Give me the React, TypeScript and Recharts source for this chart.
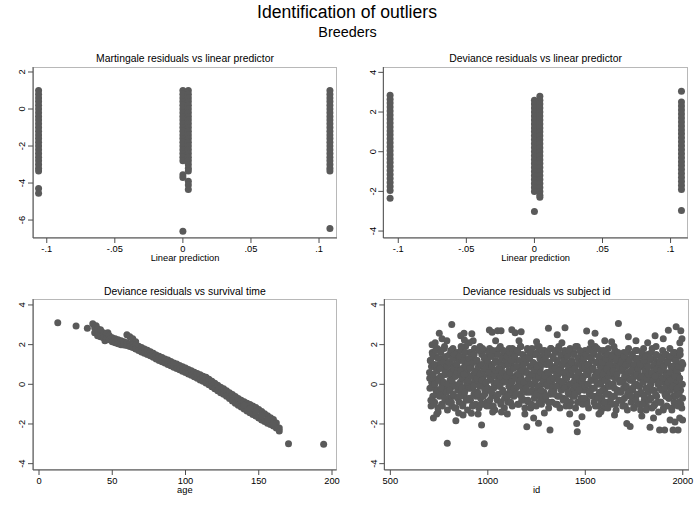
import { ScatterChart, Scatter, XAxis, YAxis } from "recharts";

const FONT = '"Liberation Sans", Arial, Helvetica, sans-serif';
const MARKER = "#5a5a5a";
const AXIS = "#4d4d4d";
const FRAME = "#b8b8b8";
const Y_W = 25;
const X_H = 30;

// the linear predictor only takes a few distinct values
const lpLow = -0.106;
const lpMid = 0;
const lpMidB = 0.004;
const lpHigh = 0.108;

const martingaleLow = [
  1.0, 0.8, 0.6, 0.4, 0.2, 0.0, -0.2, -0.4, -0.6, -0.8, -1.0, -1.2, -1.4, -1.6,
  -1.8, -2.0, -2.2, -2.4, -2.6, -2.8, -3.0, -3.2, -3.35, -4.3, -4.55,
];
const martingaleMid = [
  1.0, 0.8, 0.6, 0.4, 0.2, 0.0, -0.2, -0.4, -0.6, -0.8, -1.0, -1.2, -1.4, -1.6,
  -1.8, -2.0, -2.2, -2.4, -2.6, -2.8, -3.55, -3.7, -6.6,
];
const martingaleMidB = [
  1.0, 0.8, 0.6, 0.4, 0.2, 0.0, -0.2, -0.4, -0.6, -0.8, -1.0, -1.2, -1.4, -1.6,
  -1.8, -2.0, -2.2, -2.4, -2.6, -2.8, -3.0, -3.2, -3.35, -3.9, -4.1, -4.35,
];
const martingaleHigh = [
  1.0, 0.8, 0.6, 0.4, 0.2, 0.0, -0.2, -0.4, -0.6, -0.8, -1.0, -1.2, -1.4, -1.6,
  -1.8, -2.0, -2.2, -2.4, -2.6, -2.8, -3.0, -3.2, -3.35, -6.45,
];

const devianceLow = [
  2.85, 2.65, 2.45, 2.25, 2.05, 1.85, 1.65, 1.45, 1.25, 1.05, 0.85, 0.65, 0.45,
  0.25, 0.05, -0.15, -0.35, -0.55, -0.75, -0.95, -1.15, -1.35, -1.55, -1.75,
  -1.95, -2.35,
];
const devianceMid = [
  2.6, 2.4, 2.2, 2.0, 1.8, 1.6, 1.4, 1.2, 1.0, 0.8, 0.6, 0.4, 0.2, 0.0, -0.2,
  -0.4, -0.6, -0.8, -1.0, -1.2, -1.4, -1.6, -1.8, -2.0, -3.02,
];
const devianceMidB = [
  2.8, 2.6, 2.4, 2.2, 2.0, 1.8, 1.6, 1.4, 1.2, 1.0, 0.8, 0.6, 0.4, 0.2, 0.0,
  -0.2, -0.4, -0.6, -0.8, -1.0, -1.2, -1.4, -1.6, -1.8, -2.0, -2.2, -2.3,
];
const devianceHigh = [
  3.05, 2.5, 2.3, 2.1, 1.9, 1.7, 1.5, 1.3, 1.1, 0.9, 0.7, 0.5, 0.3, 0.1, -0.1,
  -0.3, -0.5, -0.7, -0.9, -1.1, -1.3, -1.5, -1.7, -1.9, -2.97,
];

// [age, deviance residual]
const survivalPoints: [number, number][] = [
  [12.8, 3.1], [25.3, 2.94], [33, 2.82], [36.7, 3.05],
  [39, 2.95], [41, 2.65], [43, 2.5], [45, 2.2], [47, 2.6],
  [38, 2.85], [38, 2.6], [40, 2.8], [40, 2.45], [42, 2.75], [42, 2.4], [44, 2.6], [44, 2.35],
  [46, 2.55], [46, 2.3], [48, 2.45], [48, 2.25], [50, 2.35], [50, 2.15], [52, 2.3], [52, 2.1],
  [54, 2.25], [54, 2.05], [56, 2.2], [56, 2.0], [58, 2.15], [58, 1.98], [60, 2.1], [60, 1.95],
  [60, 2.5], [62, 2.4], [64, 2.3], [66, 2.15],
  [62, 2.05], [62, 1.9], [64, 2.0], [64, 1.85], [66, 1.97], [66, 1.78], [68, 1.92], [68, 1.7],
  [70, 1.85], [70, 1.63], [72, 1.78], [72, 1.57], [74, 1.72], [74, 1.5], [76, 1.64], [76, 1.44],
  [78, 1.56], [78, 1.36], [80, 1.48], [80, 1.28], [82, 1.42], [82, 1.2], [84, 1.35], [84, 1.14],
  [86, 1.28], [86, 1.07], [88, 1.22], [88, 1.0], [90, 1.15], [90, 0.93], [92, 1.08], [92, 0.86],
  [94, 1.02], [94, 0.8], [96, 0.95], [96, 0.73], [98, 0.88], [98, 0.66], [100, 0.82], [100, 0.59],
  [102, 0.75], [102, 0.52], [104, 0.68], [104, 0.45], [106, 0.61], [106, 0.38], [108, 0.55], [108, 0.3],
  [110, 0.48], [110, 0.22], [112, 0.41], [112, 0.15], [114, 0.35], [114, 0.07], [116, 0.25], [116, -0.02],
  [118, 0.15], [118, -0.12], [120, 0.05], [120, -0.22], [122, -0.05], [122, -0.32], [124, -0.15], [124, -0.42],
  [126, -0.22], [126, -0.5], [128, -0.32], [128, -0.6], [130, -0.42], [130, -0.72], [132, -0.52], [132, -0.84],
  [134, -0.62], [134, -0.95], [136, -0.72], [136, -1.06], [138, -0.8], [138, -1.15], [140, -0.88], [140, -1.25],
  [142, -0.95], [142, -1.34], [144, -1.02], [144, -1.43], [146, -1.1], [146, -1.52], [148, -1.17], [148, -1.6],
  [150, -1.27], [150, -1.7], [152, -1.37], [152, -1.8], [154, -1.48], [154, -1.88], [156, -1.58], [156, -1.96],
  [158, -1.68], [158, -2.03], [160, -1.78], [160, -2.1], [162, -1.95], [162, -2.2], [164, -2.2], [164, -2.35],
  [140, -1.06], [144, -1.22], [148, -1.38], [152, -1.58], [156, -1.77], [160, -1.97],
  [170.3, -3.0], [194.3, -3.02],
];

// [subject id, deviance residual]
const subjectPoints: [number, number][] = [
  [701, 0.6], [703, -0.2], [706, 1.2], [709, -1.1], [712, 0.1], [715, 1.6], [718, -0.6], [721, 0.9],
  [724, 0.3], [727, -0.9], [731, 1.4], [734, -0.3], [738, 0.7], [741, 1.8], [744, -1.2], [747, 0.2],
  [751, 1.0], [754, -0.5], [757, 0.4], [760, 1.7], [763, -1.0], [766, 0.0], [769, 1.3], [772, -0.4],
  [775, 0.8], [778, 1.9], [781, -0.8], [784, 0.5], [787, -0.1], [790, 1.1], [793, -1.3], [797, 0.6],
  [800, -0.7], [803, 1.5], [806, 0.2], [809, -0.2], [812, 1.0], [815, -1.1], [818, 0.7], [821, 1.8],
  [824, 0.0], [827, -0.6], [830, 1.3], [833, 0.4], [836, -1.2], [839, 0.9], [842, 1.6], [846, -0.3],
  [850, 0.5], [853, -0.9], [856, 1.2], [859, 0.1], [862, 1.7], [865, -0.4], [868, 0.8], [871, -1.1],
  [874, 1.4], [877, 0.3], [880, -0.6], [883, 1.0], [886, 1.9], [889, -0.1], [892, 0.6], [896, -1.3],
  [899, 1.1], [902, -0.2], [905, 0.4], [908, 1.6], [911, -0.8], [914, 0.9], [917, 0.0], [920, 1.3],
  [923, -1.1], [926, 0.5], [929, -0.5], [932, 1.8], [935, 0.2], [938, -1.0], [941, 0.7], [945, 1.2],
  [948, -0.4], [951, 0.1], [954, -1.2], [957, 0.6], [960, 1.9], [963, -0.7], [966, 0.3], [969, 1.5],
  [972, -0.1], [975, -1.0], [978, 0.4], [981, 1.7], [984, -0.5], [987, 0.0], [990, 1.1], [994, -0.9],
  [997, 0.8], [1000, 1.4], [1003, -0.3], [1006, 0.5], [1009, 1.8], [1012, -1.1], [1015, 0.2], [1018, 1.0],
  [1021, -0.6], [1024, 0.7], [1027, 1.5], [1030, -0.2], [1033, 0.4], [1036, -1.3], [1039, 1.2], [1043, 0.0],
  [1046, 1.7], [1049, -0.8], [1052, 0.6], [1055, 1.1], [1058, -0.1], [1061, 0.3], [1064, 1.9], [1067, -1.0],
  [1070, 0.8], [1073, 1.4], [1076, -0.4], [1079, 0.1], [1082, 1.6], [1085, -1.2], [1088, 0.5], [1092, 1.0],
  [1095, -0.5], [1098, 0.2], [1101, 1.3], [1104, -0.9], [1107, 0.7], [1110, 1.8], [1113, 0.0], [1116, -0.3],
  [1119, 1.1], [1122, 0.4], [1125, -1.1], [1128, 1.5], [1131, 0.9], [1134, -0.6], [1137, 0.3], [1141, 1.7],
  [1144, -0.2], [1147, 1.2], [1150, 0.5], [1153, -1.0], [1156, 1.6], [1159, 0.1], [1162, 0.8], [1165, -0.5],
  [1168, 1.9], [1171, 0.3], [1174, -0.8], [1177, 1.0], [1180, 0.6], [1183, -0.1], [1186, 1.4], [1190, -1.2],
  [1193, 0.7], [1196, 1.1], [1199, -0.4], [1202, 0.2], [1205, 1.7], [1208, -0.9], [1211, 0.5], [1214, 1.3],
  [1217, 0.0], [1220, -1.2], [1223, 0.9], [1226, 1.8], [1229, -0.3], [1232, 0.4], [1235, 1.5], [1239, -0.7],
  [1242, 0.1], [1245, 1.0], [1248, -1.1], [1251, 0.6], [1254, 1.6], [1257, -0.2], [1260, 0.3], [1263, 1.9],
  [1266, -0.6], [1269, 0.8], [1272, 1.2], [1275, -1.0], [1278, 0.0], [1281, 1.4], [1284, 0.5], [1288, -0.4],
  [1291, 1.7], [1294, 0.2], [1297, -0.8], [1300, 1.1], [1303, 0.6], [1306, -0.1], [1309, 1.5], [1312, -1.2],
  [1315, 0.4], [1318, 1.0], [1321, -0.5], [1324, 1.8], [1327, 0.1], [1330, -0.9], [1333, 0.7], [1337, 1.3],
  [1340, -0.3], [1343, 0.9], [1346, 1.6], [1349, -1.0], [1352, 0.3], [1355, 1.2], [1358, -0.6], [1361, 0.5],
  [1364, 1.9], [1367, 0.0], [1370, -1.2], [1373, 0.8], [1376, 1.4], [1379, -0.2], [1382, 0.6], [1386, 1.0],
  [1389, -0.7], [1392, 0.2], [1395, 1.7], [1398, 0.4], [1401, -1.1], [1404, 1.1], [1407, -0.1], [1410, 0.7],
  [1413, 1.5], [1416, -0.5], [1419, 0.0], [1422, 1.8], [1425, -0.9], [1428, 0.5], [1431, 1.2], [1435, -0.3],
  [1438, 0.9], [1441, 1.6], [1444, -0.6], [1447, 0.3], [1450, -1.2], [1453, 1.0], [1456, 0.1], [1459, 1.9],
  [1462, -0.4], [1465, 0.6], [1468, 1.3], [1471, -0.9], [1474, 0.2], [1477, 1.5], [1480, -0.1], [1484, 0.8],
  [1487, -1.0], [1490, 0.4], [1493, 1.1], [1496, -0.3], [1499, 1.7], [1502, 0.0], [1505, 0.7], [1508, -0.8],
  [1511, 1.4], [1514, 0.5], [1517, -1.2], [1520, 1.0], [1523, 1.8], [1526, -0.5], [1529, 0.2], [1533, 1.2],
  [1536, -0.2], [1539, 0.8], [1542, 1.5], [1545, -0.9], [1548, 0.3], [1551, 1.9], [1554, -0.6], [1557, 0.6],
  [1560, 1.1], [1563, 0.0], [1566, -1.1], [1569, 1.4], [1572, 0.4], [1575, -0.4], [1578, 1.7], [1582, 0.9],
  [1585, -0.7], [1588, 0.2], [1591, 1.3], [1594, -1.2], [1597, 0.7], [1600, 1.6], [1603, -0.2], [1606, 0.5],
  [1609, 1.0], [1612, -0.9], [1615, 0.1], [1618, 1.8], [1621, -0.5], [1624, 0.8], [1627, 1.2], [1631, -0.1],
  [1634, 0.4], [1637, -1.0], [1640, 1.5], [1643, 0.0], [1646, 0.9], [1649, -0.6], [1652, 1.7], [1655, 0.3],
  [1658, -1.3], [1661, 1.1], [1664, 0.6], [1667, -0.3], [1670, 1.4], [1673, -0.8], [1676, 0.2], [1680, 1.0],
  [1683, -0.4], [1686, 0.7], [1689, 1.2], [1692, -1.1], [1695, 0.1], [1698, 1.6], [1701, -0.7], [1704, 0.5],
  [1707, 0.9], [1710, -0.2], [1713, 1.3], [1716, -1.3], [1719, 0.3], [1722, 1.8], [1725, -0.5], [1729, 0.6],
  [1732, 1.0], [1735, -0.9], [1738, 0.2], [1741, 1.5], [1744, -0.3], [1747, 0.8], [1750, -1.2], [1753, 0.4],
  [1756, 1.3], [1759, -0.6], [1762, 0.0], [1765, 1.7], [1768, -1.0], [1771, 0.6], [1774, 1.1], [1778, -0.1],
  [1781, 0.3], [1784, -1.3], [1787, 0.9], [1790, 1.4], [1793, -0.5], [1796, 0.1], [1799, 1.8], [1802, -0.8],
  [1805, 0.5], [1808, 1.0], [1811, -0.2], [1814, -1.1], [1817, 0.7], [1820, 1.5], [1823, -0.4], [1827, 0.2],
  [1830, 1.2], [1833, -0.7], [1836, 0.0], [1839, 1.6], [1842, -1.2], [1845, 0.4], [1848, 0.9], [1851, -0.3],
  [1854, 1.3], [1857, -1.0], [1860, 0.6], [1863, 1.9], [1866, -0.6], [1869, 0.2], [1872, 1.1], [1876, -1.4],
  [1879, 0.5], [1882, -0.2], [1885, 1.4], [1888, -0.9], [1891, 0.8], [1894, 0.1], [1897, 1.7], [1900, -1.3],
  [1903, 0.3], [1906, 1.0], [1909, -0.5], [1912, 0.6], [1915, 1.5], [1918, -1.1], [1921, 0.0], [1925, 1.2],
  [1928, -0.7], [1931, 0.4], [1934, 1.8], [1937, -0.2], [1940, 0.9], [1943, -1.2], [1946, 0.2], [1949, 1.3],
  [1952, -0.6], [1955, 0.7], [1958, 1.6], [1961, -1.0], [1964, 0.1], [1967, 1.1], [1970, -0.4], [1974, 0.5],
  [1977, 1.4], [1980, -0.9], [1983, 0.3], [1986, 1.7], [1989, -0.3], [1992, 0.8], [1995, -1.2], [1998, 0.0],
  [2000, 1.0],
];

// second half of the subjects, interleaved with the first
const subjectPointsB: [number, number][] = [
  [702, 0.3], [705, 1.2], [708, -0.8], [711, 0.9], [714, -0.1], [717, 1.5], [720, 0.5], [723, -1.0],
  [726, 1.0], [729, 0.0], [732, 1.7], [736, -0.5], [739, 0.7], [742, -0.3], [745, 1.3], [748, 0.2],
  [752, -0.6], [755, 0.8], [758, 1.6], [761, -0.2], [764, 0.4], [767, -1.1], [770, 1.1], [773, 0.1],
  [776, 1.8], [779, -0.7], [782, 0.6], [785, 1.4], [788, -0.4], [791, 0.9], [795, 0.0], [798, -0.9],
  [801, 1.1], [804, -0.3], [807, 0.5], [810, 1.7], [813, -0.9], [816, 0.2], [819, 1.3], [822, -0.5],
  [825, 0.8], [828, 1.5], [831, -1.2], [834, 0.4], [837, -0.1], [840, 1.0], [843, 0.6], [847, -0.7],
  [851, 0.0], [854, 1.4], [857, -0.6], [860, 0.7], [863, 1.9], [866, -0.2], [869, 0.3], [872, -1.0],
  [875, 1.2], [878, 0.5], [881, -0.4], [884, 1.6], [887, 0.9], [890, -0.8], [893, 0.1], [897, 1.1],
  [900, 0.2], [903, 1.3], [906, -0.7], [909, 0.8], [912, -0.2], [915, 1.6], [918, 0.4], [921, -1.1],
  [924, 1.1], [927, -0.1], [930, 1.5], [933, -0.4], [936, 0.6], [939, -0.6], [942, 1.2], [946, 0.3],
  [949, -0.5], [952, 0.9], [955, 1.7], [958, -0.1], [961, 0.5], [964, -1.0], [967, 1.0], [970, 0.2],
  [973, 1.8], [976, -0.6], [979, 0.7], [982, 1.3], [985, -0.3], [988, 0.8], [991, 0.1], [995, -1.1],
  [998, 1.2], [1001, -0.2], [1004, 0.6], [1007, 1.6], [1010, -0.8], [1013, 0.3], [1016, 1.4], [1019, -0.4],
  [1022, 0.9], [1025, 1.7], [1028, -1.1], [1031, 0.5], [1034, 0.0], [1037, 1.1], [1040, 0.7], [1044, -0.6],
  [1047, 0.1], [1050, 1.5], [1053, -0.5], [1056, 0.8], [1059, 1.8], [1062, -0.1], [1065, 0.4], [1068, -0.9],
  [1071, 1.3], [1074, 0.6], [1077, -0.3], [1080, 1.7], [1083, 1.0], [1086, -0.7], [1089, 0.2], [1093, 1.2],
  [1096, 0.4], [1099, 1.4], [1102, -0.6], [1105, 1.0], [1108, -0.1], [1111, 1.6], [1114, 0.6], [1117, -0.9],
  [1120, 1.2], [1123, 0.1], [1126, 1.8], [1129, -0.4], [1132, 0.8], [1135, -0.2], [1138, 1.4], [1142, 0.3],
  [1145, -0.5], [1148, 0.9], [1151, 1.7], [1154, -0.1], [1157, 0.5], [1160, -1.0], [1163, 1.2], [1166, 0.2],
  [1169, 1.9], [1172, -0.6], [1175, 0.7], [1178, 1.5], [1181, -0.3], [1184, 1.0], [1187, 0.1], [1191, -0.8],
  [1194, 1.3], [1197, -0.2], [1200, 0.6], [1203, 1.8], [1206, -0.8], [1209, 0.3], [1212, 1.4], [1215, -0.4],
  [1218, 0.9], [1221, 1.6], [1224, -1.0], [1227, 0.5], [1230, 0.0], [1233, 1.1], [1236, 0.7], [1240, -0.5],
  [1243, 0.2], [1246, 1.5], [1249, -0.5], [1252, 0.9], [1255, 1.9], [1258, -0.1], [1261, 0.4], [1264, -0.9],
  [1267, 1.3], [1270, 0.6], [1273, -0.3], [1276, 1.7], [1279, 1.0], [1282, -0.7], [1285, 0.2], [1289, 1.2],
  [1292, 0.4], [1295, 1.3], [1298, -0.6], [1301, 1.0], [1304, 0.0], [1307, 1.6], [1310, 0.6], [1313, -0.9],
  [1316, 1.1], [1319, 0.2], [1322, 1.8], [1325, -0.4], [1328, 0.8], [1331, -0.2], [1334, 1.4], [1338, 0.3],
  [1341, -0.5], [1344, 0.8], [1347, 1.7], [1350, -0.1], [1353, 0.5], [1356, -1.0], [1359, 1.1], [1362, 0.2],
  [1365, 1.8], [1368, -0.6], [1371, 0.7], [1374, 1.5], [1377, -0.3], [1380, 1.0], [1383, 0.1], [1387, -0.8],
  [1390, 1.2], [1393, -0.2], [1396, 0.6], [1399, 1.6], [1402, -0.8], [1405, 0.3], [1408, 1.4], [1411, -0.4],
  [1414, 0.9], [1417, 1.7], [1420, -1.1], [1423, 0.5], [1426, 0.0], [1429, 1.1], [1432, 0.7], [1436, -0.6],
  [1439, 0.1], [1442, 1.5], [1445, -0.5], [1448, 0.8], [1451, 1.9], [1454, -0.1], [1457, 0.4], [1460, -0.9],
  [1463, 1.3], [1466, 0.6], [1469, -0.3], [1472, 1.7], [1475, 1.0], [1478, -0.7], [1481, 0.2], [1485, 1.2],
  [1488, 0.3], [1491, 1.3], [1494, -0.7], [1497, 0.9], [1500, -0.1], [1503, 1.5], [1506, 0.5], [1509, -1.0],
  [1512, 1.0], [1515, 0.0], [1518, 1.7], [1521, -0.5], [1524, 0.7], [1527, -0.3], [1530, 1.3], [1534, 0.2],
  [1537, -0.6], [1540, 0.8], [1543, 1.6], [1546, -0.2], [1549, 0.4], [1552, -1.1], [1555, 1.1], [1558, 0.1],
  [1561, 1.8], [1564, -0.7], [1567, 0.6], [1570, 1.4], [1573, -0.4], [1576, 0.9], [1579, 0.0], [1583, -0.9],
  [1586, 1.1], [1589, -0.3], [1592, 0.5], [1595, 1.7], [1598, -0.9], [1601, 0.2], [1604, 1.3], [1607, -0.5],
  [1610, 0.8], [1613, 1.5], [1616, -1.2], [1619, 0.4], [1622, -0.1], [1625, 1.0], [1628, 0.6], [1632, -0.7],
  [1635, 0.0], [1638, 1.4], [1641, -0.6], [1644, 0.7], [1647, 1.9], [1650, -0.2], [1653, 0.3], [1656, -1.0],
  [1659, 1.2], [1662, 0.5], [1665, -0.4], [1668, 1.6], [1671, 0.9], [1674, -0.8], [1677, 0.1], [1681, 1.1],
  [1684, 0.2], [1687, 1.2], [1690, -0.8], [1693, 0.8], [1696, -0.2], [1699, 1.4], [1702, 0.4], [1705, -1.1],
  [1708, 1.0], [1711, -0.1], [1714, 1.6], [1717, -0.5], [1720, 0.6], [1723, -0.4], [1726, 1.2], [1730, 0.2],
  [1733, -0.6], [1736, 0.7], [1739, 1.5], [1742, -0.2], [1745, 0.3], [1748, -1.2], [1751, 1.0], [1754, 0.0],
  [1757, 1.7], [1760, -0.8], [1763, 0.5], [1766, 1.3], [1769, -0.5], [1772, 0.8], [1775, -0.1], [1779, -1.0],
  [1782, 1.0], [1785, -0.4], [1788, 0.4], [1791, 1.6], [1794, -1.0], [1797, 0.1], [1800, 1.2], [1803, -0.6],
  [1806, 0.7], [1809, 1.4], [1812, -1.3], [1815, 0.3], [1818, -0.2], [1821, 0.9], [1824, 0.5], [1828, -0.8],
  [1831, -0.1], [1834, 1.3], [1837, -0.7], [1840, 0.6], [1843, 1.8], [1846, -0.3], [1849, 0.2], [1852, -1.1],
  [1855, 1.0], [1858, 0.4], [1861, -0.5], [1864, 1.5], [1867, 0.8], [1870, -0.9], [1873, 0.0], [1877, 1.0],
  [1880, 0.1], [1883, 1.1], [1886, -0.9], [1889, 0.7], [1892, -0.3], [1895, 1.3], [1898, 0.3], [1901, -1.2],
  [1904, 0.9], [1907, -0.2], [1910, 1.5], [1913, -0.6], [1916, 0.5], [1919, -0.5], [1922, 1.1], [1926, 0.1],
  [1929, -0.7], [1932, 0.6], [1935, 1.4], [1938, -0.3], [1941, 0.2], [1944, -1.3], [1947, 0.9], [1950, -0.1],
  [1953, 1.6], [1956, -0.9], [1959, 0.4], [1962, 1.2], [1965, -0.6], [1968, 0.7], [1971, -0.2], [1975, -1.1],
  [1978, 0.9], [1981, -0.5], [1984, 0.3], [1987, 1.5], [1990, -1.0], [1993, 0.0], [1996, 1.1], [1999, -0.7],
];

// scattered residuals outside the main cloud
const subjectEdges: [number, number][] = [
  [714, 2.0], [721, -1.7], [738, -1.5], [751, 2.57], [765, 2.3], [792, -2.97], [815, 3.02],
  [836, -1.84], [861, 2.45], [873, -1.55], [878, 2.57], [880, 2.23], [916, -1.46], [918, 2.55],
  [925, 2.2], [968, -2.05], [982, -3.0], [1008, 2.74], [1022, 2.62], [1025, -1.4], [1050, 2.7],
  [1068, 2.7], [1070, -1.4], [1123, 2.75], [1140, 2.6], [1171, 2.65], [1200, -2.14], [1235, -1.7],
  [1260, -1.96], [1311, 2.82], [1319, -2.3], [1356, 2.5], [1396, 2.85], [1456, -1.97], [1459, -2.39],
  [1483, -1.63], [1507, 2.69], [1550, 2.57], [1580, -1.38], [1635, 2.15], [1670, 3.07], [1713, -1.97],
  [1721, 2.4], [1730, -2.13], [1832, -2.16], [1858, 2.45], [1881, -2.3], [1907, -2.3], [1926, 2.72],
  [1950, -2.3], [1966, 2.9], [1976, -2.3], [1984, -1.7], [1990, 2.7], [1996, 2.3], [1999, -1.8],
  [730, 2.1], [745, -1.4], [790, 2.2], [850, -1.45], [905, 2.1], [950, -1.5], [1040, 2.2],
  [1100, -1.5], [1160, 2.2], [1190, -1.5], [1250, 2.15], [1290, -1.45], [1380, 2.1], [1420, -1.5],
  [1530, 2.1], [1570, -1.5], [1600, 2.2], [1650, -1.55], [1760, 2.2], [1790, -1.6], [1820, 2.1],
  [1850, -1.7], [1900, 2.3], [1935, -1.8], [1960, -1.9], [1985, 2.1],
];

const lpTicks = [-0.1, -0.05, 0, 0.05, 0.1];
const lpTickLabels = ["-.1", "-.05", "0", ".05", ".1"];
const martingaleTicks = [-6, -4, -2, 0, 2];
const devianceTicks = [-4, -2, 0, 2, 4];
const ageTicks = [0, 50, 100, 150, 200];
const idTicks = [500, 1000, 1500, 2000];

type Pt = { x: number; y: number };
const column = (x: number, ys: number[]): Pt[] => ys.map((y) => ({ x, y }));
const pairs = (rows: [number, number][]): Pt[] => rows.map(([x, y]) => ({ x, y }));

const martingaleData = [
  ...column(lpLow, martingaleLow),
  ...column(lpMid, martingaleMid),
  ...column(lpMidB, martingaleMidB),
  ...column(lpHigh, martingaleHigh),
];
const devianceData = [
  ...column(lpLow, devianceLow),
  ...column(lpMid, devianceMid),
  ...column(lpMidB, devianceMidB),
  ...column(lpHigh, devianceHigh),
];
const survivalData = pairs(survivalPoints);
const subjectData = [
  ...pairs(subjectPoints),
  ...pairs(subjectPointsB),
  ...pairs(subjectEdges),
];

const lpFormat = (v: number) => {
  const i = lpTicks.findIndex((t) => Math.abs(t - v) < 1e-9);
  return i >= 0 ? lpTickLabels[i] : String(v);
};
const plainFormat = (v: number) => String(v);

const Dot = (props: any) =>
  props.cx == null ? null : <circle cx={props.cx} cy={props.cy} r={3.5} fill={MARKER} />;

const makeXTick = (fmt: (v: number) => string) => (props: any) => (
  <text x={props.x} y={props.y + 6.7} textAnchor="middle" fontSize={9.3} fontFamily={FONT} fill="#000">
    {fmt(props.payload.value)}
  </text>
);

const YTick = (props: any) => {
  const x = props.x - 0.6;
  const y = props.y;
  return (
    <text x={x} y={y} transform={`rotate(-90, ${x}, ${y})`} textAnchor="middle" fontSize={9.3} fontFamily={FONT} fill="#000">
      {String(props.payload.value)}
    </text>
  );
};

type PanelProps = {
  left: number;
  top: number;
  width: number;
  height: number;
  margin: { top: number; right: number; bottom: number; left: number };
  title: string;
  titleGap: number;
  xLabel: string;
  data: Pt[];
  xDomain: [number, number];
  yDomain: [number, number];
  xTicks: number[];
  yTicks: number[];
  xFormat: (v: number) => string;
};

const Panel = (p: PanelProps) => {
  const plotLeft = p.left + p.margin.left + Y_W;
  const plotTop = p.top + p.margin.top;
  const plotRight = p.left + p.width - p.margin.right;
  const plotBottom = p.top + p.height - p.margin.bottom - X_H;
  const plotW = plotRight - plotLeft;
  return (
    <>
      <div
        style={{
          position: "absolute",
          left: plotLeft,
          top: plotTop,
          width: plotW,
          height: plotBottom - plotTop,
          border: `1px solid ${FRAME}`,
          boxSizing: "border-box",
        }}
      />
      <div
        style={{
          position: "absolute",
          left: plotLeft,
          width: plotW,
          top: plotTop - p.titleGap - 8.8,
          textAlign: "center",
          fontSize: 10.4,
          lineHeight: 1,
          fontFamily: FONT,
          whiteSpace: "nowrap",
        }}
      >
        {p.title}
      </div>
      <div
        style={{
          position: "absolute",
          left: plotLeft,
          width: plotW,
          top: plotBottom + 23.7 - 7.9,
          textAlign: "center",
          fontSize: 9.3,
          lineHeight: 1,
          fontFamily: FONT,
        }}
      >
        {p.xLabel}
      </div>
      <div style={{ position: "absolute", left: p.left, top: p.top }}>
        <ScatterChart width={p.width} height={p.height} margin={p.margin}>
          <XAxis
            type="number"
            dataKey="x"
            domain={p.xDomain}
            ticks={p.xTicks}
            interval={0}
            allowDataOverflow
            height={X_H}
            tickSize={5}
            tickMargin={2}
            stroke={AXIS}
            tickLine={{ stroke: AXIS }}
            tick={makeXTick(p.xFormat)}
          />
          <YAxis
            type="number"
            dataKey="y"
            domain={p.yDomain}
            ticks={p.yTicks}
            interval={0}
            allowDataOverflow
            width={Y_W}
            tickSize={5}
            tickMargin={2}
            stroke={AXIS}
            tickLine={{ stroke: AXIS }}
            tick={YTick}
          />
          <Scatter data={p.data} shape={Dot} isAnimationActive={false} />
        </ScatterChart>
      </div>
    </>
  );
};

export default function App() {
  return (
    <div
      style={{
        position: "absolute",
        left: 0,
        top: 0,
        width: 700,
        height: 505,
        background: "#fff",
        fontFamily: FONT,
        color: "#000",
      }}
    >
      <div
        style={{
          position: "absolute",
          left: 0,
          width: 694,
          top: 4.4,
          textAlign: "center",
          fontSize: 17.6,
          lineHeight: 1,
        }}
      >
        Identification of outliers
      </div>
      <div
        style={{
          position: "absolute",
          left: 0,
          width: 695,
          top: 25.1,
          textAlign: "center",
          fontSize: 14.4,
          lineHeight: 1,
        }}
      >
        Breeders
      </div>
      <Panel
        left={0}
        top={0}
        width={350}
        height={280}
        margin={{ top: 67, right: 13, bottom: 12, left: 8 }}
        title="Martingale residuals vs linear predictor"
        titleGap={4.3}
        xLabel="Linear prediction"
        data={martingaleData}
        xDomain={[-0.1101, 0.1132]}
        yDomain={[-6.97, 2.27]}
        xTicks={lpTicks}
        yTicks={martingaleTicks}
        xFormat={lpFormat}
      />
      <Panel
        left={350}
        top={0}
        width={350}
        height={280}
        margin={{ top: 67, right: 12, bottom: 12, left: 8.3 }}
        title="Deviance residuals vs linear predictor"
        titleGap={4.3}
        xLabel="Linear prediction"
        data={devianceData}
        xDomain={[-0.111, 0.1128]}
        yDomain={[-4.35, 4.27]}
        xTicks={lpTicks}
        yTicks={devianceTicks}
        xFormat={lpFormat}
      />
      <Panel
        left={0}
        top={260}
        width={350}
        height={245}
        margin={{ top: 39, right: 13.3, bottom: 5, left: 8 }}
        title="Deviance residuals vs survival time"
        titleGap={2.8}
        xLabel="age"
        data={survivalData}
        xDomain={[-4.1, 203.2]}
        yDomain={[-4.32, 4.3]}
        xTicks={ageTicks}
        yTicks={devianceTicks}
        xFormat={plainFormat}
      />
      <Panel
        left={350}
        top={260}
        width={350}
        height={245}
        margin={{ top: 39, right: 11, bottom: 5, left: 9.3 }}
        title="Deviance residuals vs subject id"
        titleGap={2.8}
        xLabel="id"
        data={subjectData}
        xDomain={[469, 2032]}
        yDomain={[-4.32, 4.3]}
        xTicks={idTicks}
        yTicks={devianceTicks}
        xFormat={plainFormat}
      />
    </div>
  );
}
